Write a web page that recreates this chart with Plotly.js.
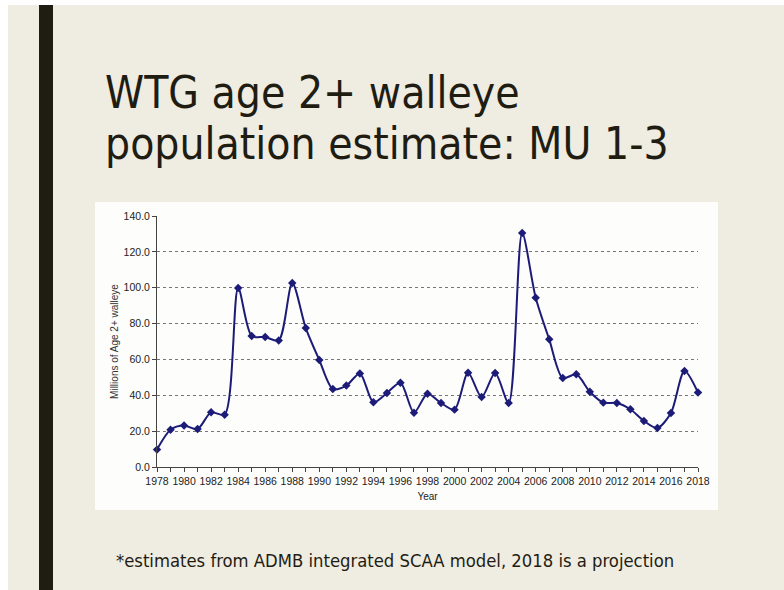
<!DOCTYPE html>
<html>
<head>
<meta charset="utf-8">
<script src="https://cdn.plot.ly/plotly-3.0.1.min.js"></script>
<style>
html,body{margin:0;padding:0;background:#ffffff;}
#chart{width:784px;height:590px;}
</style>
</head>
<body>
<div id="chart"></div>
<script>
const years = [1978,1979,1980,1981,1982,1983,1984,1985,1986,1987,1988,1989,1990,1991,1992,1993,1994,1995,1996,1997,1998,1999,2000,2001,2002,2003,2004,2005,2006,2007,2008,2009,2010,2011,2012,2013,2014,2015,2016,2017,2018];
const walleyeMillions = [9.7,20.8,23.1,21.2,30.5,29.2,99.8,73.1,72.5,70.6,102.6,77.5,59.7,43.5,45.4,52.2,36.1,41.3,47.0,30.3,40.9,35.7,32.0,52.6,39.0,52.4,35.7,130.5,94.4,71.2,49.6,51.7,42.0,35.9,35.7,32.2,25.7,21.8,30.1,53.5,41.5];
const yTicks = [0,20,40,60,80,100,120,140];
const xLabelYears = [1978,1980,1982,1984,1986,1988,1990,1992,1994,1996,1998,2000,2002,2004,2006,2008,2010,2012,2014,2016,2018];
const titleLines = ['WTG age 2+ walleye', 'population estimate: MU 1-3'];
const footnote = '*estimates from ADMB integrated SCAA model, 2018 is a projection';

const W = 784, H = 590;
const M = {l: 157, r: 86, t: 216, b: 123};
const plotW = W - M.l - M.r, plotH = H - M.t - M.b;
const sx = v => (v - M.l) / plotW, sy = v => (H - M.b - v) / plotH;
const slideFont = 'DejaVu Sans Condensed, DejaVu Sans, sans-serif';
const ink = '#1f1d12';

const trace = {
  x: years, y: walleyeMillions, type: 'scatter', mode: 'lines+markers',
  line: {color: '#1c1c78', width: 2, shape: 'spline', smoothing: 0.8},
  marker: {symbol: 'diamond', size: 6.5, color: '#1c1c78'},
  cliponaxis: false, hoverinfo: 'x+y'
};

const layout = {
  width: W, height: H,
  paper_bgcolor: '#efece2', plot_bgcolor: 'rgba(0,0,0,0)',
  margin: M,
  showlegend: false,
  font: {family: 'Liberation Sans, Arial, sans-serif', size: 10, color: '#333'},
  xaxis: {
    range: [1978, 2018], tickvals: xLabelYears, ticktext: xLabelYears.map(String),
    ticks: 'outside', ticklen: 4, tickcolor: '#444', showgrid: false, zeroline: false,
    showline: true, linecolor: '#444', linewidth: 1,
    minor: {dtick: 1, tick0: 1978, ticks: 'outside', ticklen: 4, tickcolor: '#444', showgrid: false},
    tickfont: {size: 10.5, color: '#222'},
    title: {text: 'Year', font: {size: 10, color: '#222'}, standoff: 7}
  },
  yaxis: {
    range: [0, 140], tickvals: yTicks, tickformat: '.1f',
    ticks: 'outside', ticklen: 4, tickcolor: '#444',
    showline: true, linecolor: '#444', linewidth: 1, zeroline: false,
    showgrid: true, gridcolor: '#777', gridwidth: 1, griddash: 'dot',
    tickfont: {size: 10.5, color: '#222'},
    title: {text: 'Millions of Age 2+ walleye', font: {size: 10, color: '#333'}, standoff: 3}
  },
  shapes: [
    {type: 'rect', xref: 'paper', yref: 'paper', x0: sx(0), x1: sx(W), y0: sy(5), y1: sy(0), fillcolor: '#ffffff', line: {width: 0}, layer: 'below'},
    {type: 'rect', xref: 'paper', yref: 'paper', x0: sx(0), x1: sx(8), y0: sy(H), y1: sy(0), fillcolor: '#ffffff', line: {width: 0}, layer: 'below'},
    {type: 'rect', xref: 'paper', yref: 'paper', x0: sx(39), x1: sx(53), y0: sy(H), y1: sy(5), fillcolor: ink, line: {width: 0}, layer: 'below'},
    {type: 'rect', xref: 'paper', yref: 'paper', x0: sx(95), x1: sx(718), y0: sy(510), y1: sy(202), fillcolor: '#fdfdfb', line: {width: 0}, layer: 'below'}
  ],
  annotations: [
    {xref: 'paper', yref: 'paper', x: sx(103), y: sy(92), xanchor: 'left', yanchor: 'middle', showarrow: false,
     text: titleLines[0], font: {family: slideFont, size: 44, color: ink}},
    {xref: 'paper', yref: 'paper', x: sx(103), y: sy(143), xanchor: 'left', yanchor: 'middle', showarrow: false,
     text: titleLines[1], font: {family: slideFont, size: 44, color: ink}},
    {xref: 'paper', yref: 'paper', x: sx(114), y: sy(560), xanchor: 'left', yanchor: 'middle', showarrow: false,
     text: footnote, font: {family: slideFont, size: 18.3, color: ink}}
  ]
};

Plotly.newPlot('chart', [trace], layout, {displayModeBar: false, staticPlot: true});
</script>
</body>
</html>
